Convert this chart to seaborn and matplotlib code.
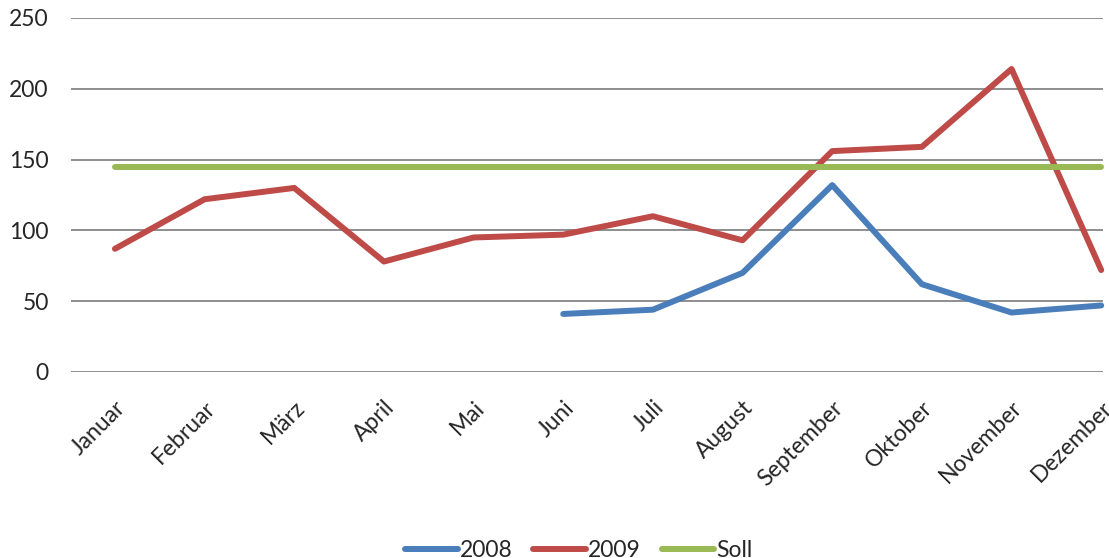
import matplotlib
matplotlib.use("Agg")
import matplotlib.pyplot as plt
import seaborn as sns
import pandas as pd
import numpy as np
from matplotlib.lines import Line2D

months = ["Januar", "Februar", "März", "April", "Mai", "Juni", "Juli",
          "August", "September", "Oktober", "November", "Dezember"]
s2008 = [np.nan, np.nan, np.nan, np.nan, np.nan, 41, 44, 70, 132, 62, 42, 47]
s2009 = [87, 122, 130, 78, 95, 97, 110, 93, 156, 159, 214, 72]
soll = [145] * 12

sns.set_theme(style="white")
plt.rcParams['font.family'] = ['Lato', 'DejaVu Sans']

df = pd.DataFrame({"Monat": months, "2008": s2008, "2009": s2009, "Soll": soll})
long = df.melt(id_vars="Monat", var_name="Serie", value_name="Wert")
long["x"] = long["Monat"].map({m: i for i, m in enumerate(months)})

colors = {"2008": "#4A7EBB", "2009": "#BE4B48", "Soll": "#98B954"}

fig = plt.figure(figsize=(11.09, 5.58), dpi=100)
ax = fig.add_axes([71 / 1109, 1 - 372 / 558, (1103 - 71) / 1109, (372 - 18) / 558])

sns.lineplot(data=long, x="x", y="Wert", hue="Serie", palette=colors,
             linewidth=4.3, ax=ax, legend=False, estimator=None, sort=False)
for ln in ax.lines:
    ln.set_solid_capstyle("round")
    ln.set_clip_on(False)

ax.set_xlim(-0.49, 11.02)
ax.set_ylim(0, 250)
ax.set_yticks([0, 50, 100, 150, 200, 250])
ax.yaxis.grid(True, color="#868686", linewidth=1.3)
ax.set_axisbelow(True)
for sp in ax.spines.values():
    sp.set_visible(False)
ax.set_xticks(range(12))
ax.set_xticklabels(months, rotation=45, ha="right", rotation_mode="anchor", fontsize=16.5)
ax.tick_params(axis="x", length=0, pad=18)
ax.tick_params(axis="y", length=0, pad=16, labelsize=16.5)
ax.set_xlabel("")
ax.set_ylabel("")

handles = [Line2D([0], [0], color=colors[k], linewidth=4.3, solid_capstyle="round") for k in ["2008", "2009", "Soll"]]
fig.legend(handles, ["2008", "2009", "Soll"], loc="upper center", ncol=3,
           bbox_to_anchor=(0.522, 0.052), frameon=False, fontsize=16.5,
           handlelength=2.3, handletextpad=0.1, columnspacing=0.9, borderpad=0)

fig.savefig("out.png", dpi=100)
